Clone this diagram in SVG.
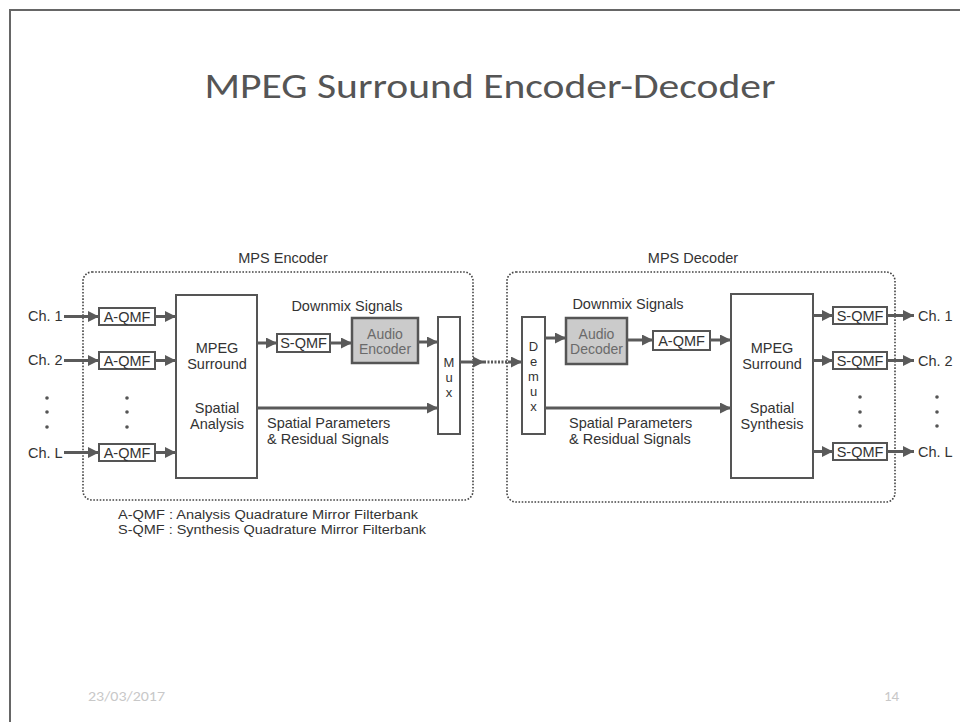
<svg xmlns="http://www.w3.org/2000/svg" width="960" height="722" viewBox="0 0 960 722">
  <defs>
    <marker id="ah" viewBox="0 0 10 10" refX="10" refY="5" markerWidth="11" markerHeight="11" markerUnits="userSpaceOnUse" orient="auto">
      <path d="M0,0 L10,5 L0,10 z" fill="#5a5a5a"/>
    </marker>
    <style>
      .lbl { font-family: "Liberation Sans", Arial, sans-serif; font-size: 14.5px; fill: #333; }
      .mid { text-anchor: middle; }
      .vl { font-family: "Liberation Sans", Arial, sans-serif; font-size: 13px; fill: #333; text-anchor: middle; }
      .box { fill: #fff; stroke: #555; stroke-width: 2; }
      .gbox { fill: #cbcbcb; stroke: #555; stroke-width: 2.5; }
      .glbl { font-family: "Liberation Sans", Arial, sans-serif; font-size: 14px; fill: #6a6a6a; text-anchor: middle; }
      .leg { font-family: "Liberation Sans", Arial, sans-serif; font-size: 13.5px; fill: #333; }
      .cont { fill: none; stroke: #444; stroke-width: 1.6; stroke-dasharray: 1.6 1.6; }
      .wire { fill: none; stroke: #5a5a5a; stroke-width: 3; marker-end: url(#ah); }
      .dot { fill: #555; }
      .foot { font-family: Calibri, "Open Sans", "Liberation Sans", sans-serif; font-size: 15px; fill: #c8c8c8; }
    </style>
  </defs>

  <rect width="960" height="722" fill="#fff"/>
  <!-- slide frame -->
  <path d="M10,722 V10 H960" fill="none" stroke="#666" stroke-width="2"/>

  <text x="490" y="98" text-anchor="middle" font-family="Calibri, 'Open Sans', 'Liberation Sans', sans-serif" font-size="34" fill="#555" textLength="571" lengthAdjust="spacingAndGlyphs">MPEG Surround Encoder-Decoder</text>

  <!-- encoder -->
  <g id="encoder">
    <rect class="cont" x="83" y="272" width="390" height="228" rx="9"/>
    <text class="lbl mid" x="283" y="263">MPS Encoder</text>
  </g>
  <g id="ch-in">
    <text class="lbl" x="28" y="321">Ch. 1</text>
    <text class="lbl" x="28" y="365">Ch. 2</text>
    <text class="lbl" x="28" y="458">Ch. L</text>
    <circle class="dot" cx="47" cy="398" r="1.8"/>
    <circle class="dot" cx="47" cy="412" r="1.8"/>
    <circle class="dot" cx="47" cy="427" r="1.8"/>
  </g>
  <g id="aqmf-enc">
    <rect class="box" x="99" y="308" width="56" height="17"/>
    <text class="lbl mid" x="127" y="322">A-QMF</text>
    <rect class="box" x="99" y="352" width="56" height="17"/>
    <text class="lbl mid" x="127" y="366">A-QMF</text>
    <rect class="box" x="99" y="444" width="56" height="17"/>
    <text class="lbl mid" x="127" y="458">A-QMF</text>
    <circle class="dot" cx="127" cy="398" r="1.8"/>
    <circle class="dot" cx="127" cy="412" r="1.8"/>
    <circle class="dot" cx="127" cy="427" r="1.8"/>
  </g>
  <g id="analysis">
    <rect class="box" x="176" y="295" width="81" height="183"/>
    <text class="lbl mid" x="217" y="353">MPEG</text>
    <text class="lbl mid" x="217" y="369">Surround</text>
    <text class="lbl mid" x="217" y="413">Spatial</text>
    <text class="lbl mid" x="217" y="429">Analysis</text>
  </g>
  <g id="enc-labels">
    <text class="lbl mid" x="347" y="311">Downmix Signals</text>
    <text class="lbl" x="267" y="428">Spatial Parameters</text>
    <text class="lbl" x="267" y="444">&amp; Residual Signals</text>
  </g>
  <g id="sqmf-enc">
    <rect class="box" x="277" y="334" width="53" height="18"/>
    <text class="lbl mid" x="303.5" y="348">S-QMF</text>
  </g>
  <g id="audio-encoder">
    <rect class="gbox" x="352" y="318" width="66" height="45"/>
    <text class="glbl" x="385" y="339">Audio</text>
    <text class="glbl" x="385" y="354">Encoder</text>
  </g>
  <g id="mux">
    <rect class="box" x="438" y="317" width="22" height="117"/>
    <text class="vl" x="449" y="367">M</text>
    <text class="vl" x="449" y="382">u</text>
    <text class="vl" x="449" y="397">x</text>
  </g>

  <!-- decoder -->
  <g id="decoder">
    <rect class="cont" x="507" y="272" width="388" height="230" rx="9"/>
    <text class="lbl mid" x="693" y="263">MPS Decoder</text>
  </g>
  <g id="demux">
    <rect class="box" x="522" y="317" width="23" height="117"/>
    <text class="vl" x="533.5" y="351">D</text>
    <text class="vl" x="533.5" y="366">e</text>
    <text class="vl" x="533.5" y="381">m</text>
    <text class="vl" x="533.5" y="396">u</text>
    <text class="vl" x="533.5" y="411">x</text>
  </g>
  <g id="dec-labels">
    <text class="lbl mid" x="628" y="309">Downmix Signals</text>
    <text class="lbl" x="569" y="428">Spatial Parameters</text>
    <text class="lbl" x="569" y="444">&amp; Residual Signals</text>
  </g>
  <g id="audio-decoder">
    <rect class="gbox" x="566" y="318" width="61" height="46"/>
    <text class="glbl" x="596.5" y="339">Audio</text>
    <text class="glbl" x="596.5" y="354">Decoder</text>
  </g>
  <g id="aqmf-dec">
    <rect class="box" x="653" y="331" width="57" height="19"/>
    <text class="lbl mid" x="681.5" y="346">A-QMF</text>
  </g>
  <g id="synthesis">
    <rect class="box" x="731" y="294" width="82" height="184"/>
    <text class="lbl mid" x="772" y="353">MPEG</text>
    <text class="lbl mid" x="772" y="369">Surround</text>
    <text class="lbl mid" x="772" y="413">Spatial</text>
    <text class="lbl mid" x="772" y="429">Synthesis</text>
  </g>
  <g id="sqmf-dec">
    <rect class="box" x="833" y="307" width="54" height="17"/>
    <text class="lbl mid" x="860" y="321">S-QMF</text>
    <rect class="box" x="833" y="352" width="54" height="17"/>
    <text class="lbl mid" x="860" y="366">S-QMF</text>
    <rect class="box" x="833" y="443" width="54" height="17"/>
    <text class="lbl mid" x="860" y="457">S-QMF</text>
    <circle class="dot" cx="860" cy="397" r="1.8"/>
    <circle class="dot" cx="860" cy="412" r="1.8"/>
    <circle class="dot" cx="860" cy="426" r="1.8"/>
  </g>
  <g id="ch-out">
    <text class="lbl" x="918" y="321">Ch. 1</text>
    <text class="lbl" x="918" y="366">Ch. 2</text>
    <text class="lbl" x="918" y="457">Ch. L</text>
    <circle class="dot" cx="937" cy="397" r="1.8"/>
    <circle class="dot" cx="937" cy="412" r="1.8"/>
    <circle class="dot" cx="937" cy="426" r="1.8"/>
  </g>

  <!-- connectors -->
  <g id="connectors">
    <line class="wire" x1="64" y1="316.5" x2="99" y2="316.5"/>
    <line class="wire" x1="64" y1="360.5" x2="99" y2="360.5"/>
    <line class="wire" x1="64" y1="452.5" x2="99" y2="452.5"/>
    <line class="wire" x1="155" y1="316.5" x2="176" y2="316.5"/>
    <line class="wire" x1="155" y1="360.5" x2="176" y2="360.5"/>
    <line class="wire" x1="155" y1="452.5" x2="176" y2="452.5"/>
    <line class="wire" x1="257" y1="343" x2="277" y2="343"/>
    <line class="wire" x1="330" y1="343" x2="352" y2="343"/>
    <line class="wire" x1="418" y1="342" x2="438" y2="342"/>
    <line class="wire" x1="257" y1="408" x2="438" y2="408"/>
    <line class="wire" x1="460" y1="362" x2="484" y2="362"/>
    <line x1="484" y1="362" x2="508" y2="362" stroke="#5a5a5a" stroke-width="3" stroke-dasharray="2 1.5"/>
    <line class="wire" x1="508" y1="362" x2="522" y2="362"/>
    <line class="wire" x1="545" y1="338" x2="566" y2="338"/>
    <line class="wire" x1="627" y1="340" x2="653" y2="340"/>
    <line class="wire" x1="710" y1="340" x2="731" y2="340"/>
    <line class="wire" x1="545" y1="408" x2="731" y2="408"/>
    <line class="wire" x1="813" y1="315.5" x2="833" y2="315.5"/>
    <line class="wire" x1="813" y1="360.5" x2="833" y2="360.5"/>
    <line class="wire" x1="813" y1="451.5" x2="833" y2="451.5"/>
    <line class="wire" x1="887" y1="315.5" x2="914" y2="315.5"/>
    <line class="wire" x1="887" y1="360.5" x2="914" y2="360.5"/>
    <line class="wire" x1="887" y1="451.5" x2="914" y2="451.5"/>
  </g>

  <g id="legend">
    <text class="leg" x="118" y="519" textLength="300" lengthAdjust="spacingAndGlyphs">A-QMF : Analysis Quadrature Mirror Filterbank</text>
    <text class="leg" x="118" y="534" textLength="308" lengthAdjust="spacingAndGlyphs">S-QMF : Synthesis Quadrature Mirror Filterbank</text>
  </g>

  <text class="foot" x="88" y="701" textLength="77" lengthAdjust="spacingAndGlyphs">23/03/2017</text>
  <text class="foot" x="884" y="701">14</text>
</svg>
